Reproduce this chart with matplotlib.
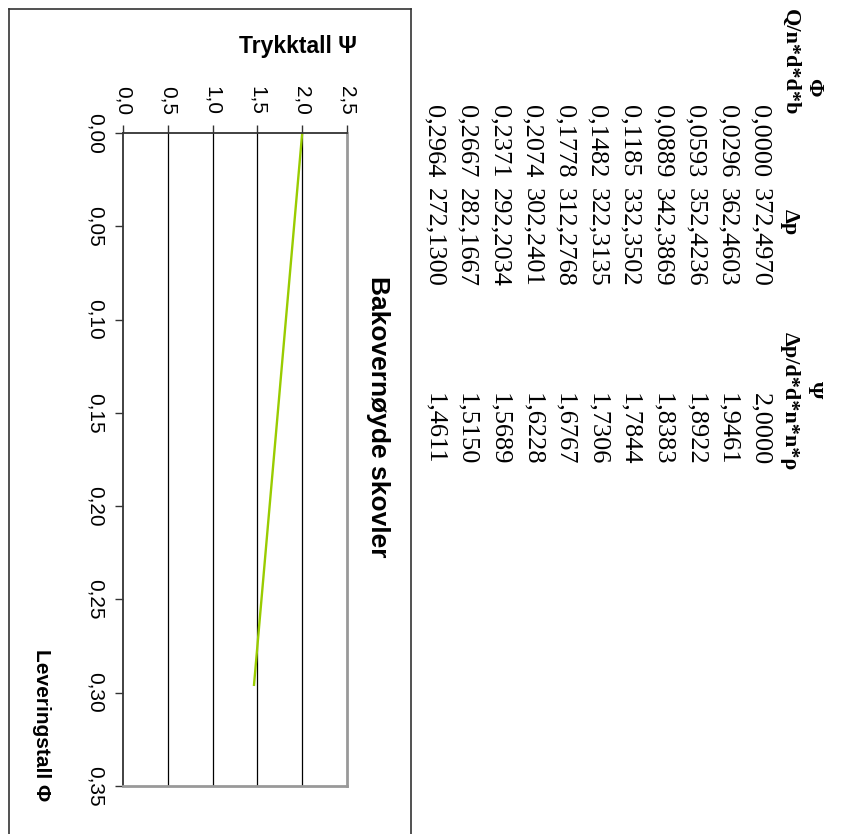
import matplotlib.pyplot as plt
from matplotlib.lines import Line2D

# table data (Φ, Δp, Ψ)
phi = [0.0000, 0.0296, 0.0593, 0.0889, 0.1185, 0.1482, 0.1778, 0.2074, 0.2371, 0.2667, 0.2964]
dp = [372.4970, 362.4603, 352.4236, 342.3869, 332.3502, 322.3135, 312.2768, 302.2401, 292.2034, 282.1667, 272.1300]
psi = [2.0000, 1.9461, 1.8922, 1.8383, 1.7844, 1.7306, 1.6767, 1.6228, 1.5689, 1.5150, 1.4611]

psi_ticks = [0.0, 0.5, 1.0, 1.5, 2.0, 2.5]
psi_labels = ['0,0', '0,5', '1,0', '1,5', '2,0', '2,5']
phi_ticks = [0.00, 0.05, 0.10, 0.15, 0.20, 0.25, 0.30, 0.35]
phi_labels = ['0,00', '0,05', '0,10', '0,15', '0,20', '0,25', '0,30', '0,35']

W, H = 847, 834

def fx(x):
    return x / W

def fy(y):
    return 1 - y / H

def num(v):
    return f'{v:.4f}'.replace('.', ',')

fig = plt.figure(figsize=(W / 100, H / 100), dpi=100)

# the whole page is turned a quarter turn clockwise:
# Ψ runs left->right, Φ runs top->bottom
ax = fig.add_axes([fx(123), fy(786), (347 - 123) / W, (786 - 133) / H])
ax.plot(psi, phi, color='#99cc00', lw=1.7, solid_capstyle='butt')
ax.set_xlim(0, 2.5)
ax.set_ylim(0.35, 0)

for g in psi_ticks[1:-1]:
    ax.axvline(g, color='black', lw=0.9, zorder=0)

ax.xaxis.tick_top()
ax.set_xticks(psi_ticks)
ax.set_xticklabels(psi_labels, rotation=-90, fontsize=15, family='Liberation Sans')
ax.set_yticks(phi_ticks)
ax.set_yticklabels(phi_labels, rotation=-90, va='center', fontsize=15, family='Liberation Sans')
ax.tick_params(axis='x', direction='out', length=6, width=1, color='#333333', pad=7)
ax.tick_params(axis='y', direction='out', length=6, width=1, color='#333333', pad=7)

for s in ['top', 'left']:
    ax.spines[s].set_color('#333333')
    ax.spines[s].set_linewidth(1.3)
for s in ['right', 'bottom']:
    ax.spines[s].set_color('#999999')
    ax.spines[s].set_linewidth(2)

# axis titles and chart title
fig.text(fx(298), fy(47), 'Trykktall Ψ', ha='center', va='center',
         fontsize=16.5, weight='bold', family='Liberation Sans')
fig.text(fx(41), fy(725), 'Leveringstall Φ', ha='center', va='center', rotation=-90,
         fontsize=15, weight='bold', family='Liberation Sans')
fig.text(fx(378), fy(417), 'Bakovernøyde skovler', ha='center', va='center', rotation=-90,
         fontsize=19, weight='bold', family='Liberation Sans')

# chart border
bc = '#333333'
fig.add_artist(Line2D([fx(9), fx(411)], [fy(9), fy(9)], color=bc, lw=1.2))
fig.add_artist(Line2D([fx(9), fx(9)], [fy(9), fy(834)], color=bc, lw=1.2))
fig.add_artist(Line2D([fx(411), fx(411)], [fy(9), fy(834)], color=bc, lw=1.2))

# table, rows become columns after the turn
serif = 'Liberation Serif'
hdr = dict(rotation=-90, ha='center', va='center', fontsize=16, weight='bold', family=serif)
fig.text(fx(813), fy(87), 'Φ', **hdr)
fig.text(fx(813), fy(390), 'Ψ', **hdr)
fig.text(fx(790), fy(62), 'Q/n*d*d*b', **hdr)
fig.text(fx(790), fy(222), 'Δp', **hdr)
fig.text(fx(790), fy(401), 'Δp/d*d*n*n*ρ', **hdr)

cell = dict(rotation=-90, ha='center', va='top', fontsize=19, family=serif)
for i in range(len(phi)):
    x = 760 - 32.6 * i
    fig.text(fx(x), fy(105), num(phi[i]), **cell)
    fig.text(fx(x), fy(188), num(dp[i]), **cell)
    fig.text(fx(x), fy(393), num(psi[i]), **cell)

fig.savefig('out.png', dpi=100)
